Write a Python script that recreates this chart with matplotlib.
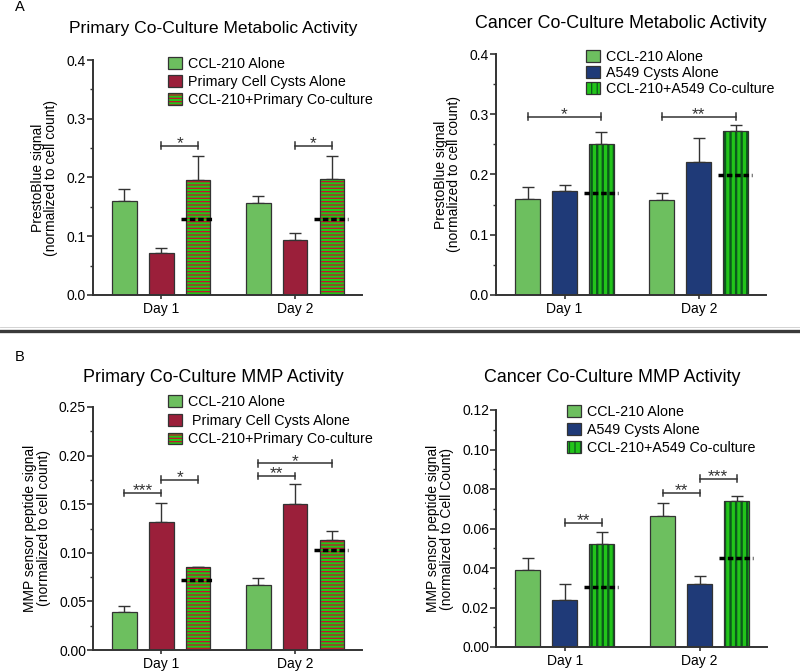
import numpy as np
import matplotlib.pyplot as plt
from matplotlib.patches import Patch
from matplotlib.ticker import MultipleLocator

plt.rcParams['font.family'] = ['Liberation Sans', 'DejaVu Sans']
plt.rcParams['hatch.linewidth'] = 0.9

days = ["Day 1", "Day 2"]

# Panel A, primary co-culture metabolic activity
a1_alone = [0.160, 0.157]
a1_alone_err = [0.020, 0.012]
a1_cysts = [0.071, 0.094]
a1_cysts_err = [0.009, 0.012]
a1_co = [0.195, 0.197]
a1_co_err = [0.042, 0.040]
a1_expected = [0.130, 0.130]

# Panel A, cancer co-culture metabolic activity
a2_alone = [0.159, 0.157]
a2_alone_err = [0.021, 0.012]
a2_cysts = [0.173, 0.220]
a2_cysts_err = [0.009, 0.040]
a2_co = [0.250, 0.273]
a2_co_err = [0.020, 0.009]
a2_expected = [0.170, 0.200]

# Panel B, primary co-culture MMP activity
b1_alone = [0.039, 0.067]
b1_alone_err = [0.006, 0.007]
b1_cysts = [0.132, 0.150]
b1_cysts_err = [0.019, 0.021]
b1_co = [0.085, 0.113]
b1_co_err = [0.0008, 0.009]
b1_expected = [0.072, 0.103]

# Panel B, cancer co-culture MMP activity
b2_alone = [0.0389, 0.0664]
b2_alone_err = [0.0060, 0.0066]
b2_cysts = [0.0237, 0.0321]
b2_cysts_err = [0.0081, 0.0037]
b2_co = [0.0524, 0.0740]
b2_co_err = [0.0059, 0.0027]
b2_expected = [0.0304, 0.0450]

# significance brackets: (day, bar from, bar to, height, label)
a1_sig = [(0, 1, 2, 0.254, "*"), (1, 1, 2, 0.254, "*")]
a2_sig = [(0, 0, 2, 0.296, "*"), (1, 0, 2, 0.296, "**")]
b1_sig = [(0, 0, 1, 0.1616, "***"), (0, 1, 2, 0.175, "*"),
          (1, 0, 1, 0.179, "**"), (1, 0, 2, 0.192, "*")]
b2_sig = [(0, 1, 2, 0.0629, "**"), (1, 0, 1, 0.078, "**"), (1, 1, 2, 0.0853, "***")]

LIGHT_GREEN = "#6dbf5f"
MAROON = "#9b1f3a"
NAVY = "#1f3a78"
BRIGHT_GREEN = "#22c41a"
STRIPE_RED = "#c8102e"
STRIPE_DKGREEN = "#0b5a1c"
EDGE = "#333333"

fig = plt.figure(figsize=(8.0, 6.71), dpi=100)

off = 0.275
bw = 0.185


def panel(rect, alone, alone_err, cysts, cysts_err, co, co_err, expected, sig,
          cyst_label, cyst_color, co_label, hatch, hatch_color, ylim, major, minor,
          fmt, ylabel, leg_xy, leg_spacing):
    ax = fig.add_axes(rect)
    x = np.arange(len(days))
    xs = [x - off, x, x + off]
    vals = [alone, cysts, co]
    errs = [alone_err, cysts_err, co_err]
    ax.bar(xs[0], alone, bw, color=LIGHT_GREEN, edgecolor=EDGE, linewidth=0.9, zorder=2)
    ax.bar(xs[1], cysts, bw, color=cyst_color, edgecolor=EDGE, linewidth=0.9, zorder=2)
    hb = ax.bar(xs[2], co, bw, color=BRIGHT_GREEN, edgecolor=hatch_color, linewidth=0,
                hatch=hatch, zorder=2)
    if hatch.startswith('|'):
        for p in hb:
            if hasattr(p, 'set_hatch_linewidth'):
                p.set_hatch_linewidth(1.7)
    ax.bar(xs[2], co, bw, fill=False, edgecolor=EDGE, linewidth=0.9, zorder=3)
    for xx, v, e in zip(xs, vals, errs):
        ax.errorbar(xx, v, yerr=[np.zeros(len(v)), e], fmt='none', ecolor=EDGE,
                    elinewidth=1.0, capsize=4.5, capthick=1.0, zorder=1)
    for i in range(len(days)):
        ax.plot([x[i] + off - 0.13, x[i] + off + 0.12], [expected[i]] * 2, color='black',
                lw=2.5, dashes=(1.6, 0.8), zorder=4)
    capspan = (ylim[1] - ylim[0]) * 0.014
    for d, b0, b1, h, lab in sig:
        x0 = x[d] + (b0 - 1) * off
        x1 = x[d] + (b1 - 1) * off
        ax.plot([x0, x1], [h, h], color=EDGE, lw=1.1, zorder=5)
        for xx in (x0, x1):
            ax.plot([xx, xx], [h - capspan, h + capspan], color=EDGE, lw=1.1, zorder=5)
        ax.annotate(lab, ((x0 + x1) / 2, h), xytext=(0, -1.8), textcoords='offset points',
                    ha='center', va='baseline', fontsize=12.5, color=EDGE)
    ax.set_xlim(-0.51, 1.5)
    ax.set_ylim(*ylim)
    ax.set_xticks(x)
    ax.set_xticklabels(days, fontsize=10)
    ax.yaxis.set_major_locator(MultipleLocator(major))
    ax.yaxis.set_minor_locator(MultipleLocator(minor))
    ax.yaxis.set_major_formatter(fmt)
    ax.tick_params(axis='y', labelsize=10, width=1.2, length=4, color=EDGE, pad=1)
    ax.tick_params(axis='y', which='minor', width=1.0, length=2.5, color=EDGE)
    ax.tick_params(axis='x', width=1.2, length=3, color=EDGE, pad=2)
    for s in ('top', 'right'):
        ax.spines[s].set_visible(False)
    for s in ('left', 'bottom'):
        ax.spines[s].set_linewidth(1.4)
        ax.spines[s].set_color(EDGE)
    ax.set_ylabel(ylabel, fontsize=10, linespacing=0.95, labelpad=6)
    handles = [
        Patch(facecolor=LIGHT_GREEN, edgecolor=EDGE, linewidth=0.9),
        Patch(facecolor=cyst_color, edgecolor=EDGE, linewidth=0.9),
        (Patch(facecolor=BRIGHT_GREEN, edgecolor=hatch_color, linewidth=0, hatch=hatch),
         Patch(fill=False, edgecolor=EDGE, linewidth=0.9)),
    ]
    ax.legend(handles, ["CCL-210 Alone", cyst_label, co_label], loc='upper left',
              bbox_to_anchor=(leg_xy[0] / 800, 1 - leg_xy[1] / 671),
              bbox_transform=fig.transFigure, frameon=False, fontsize=10.3,
              borderaxespad=0, borderpad=0, handlelength=0.95, handleheight=0.9,
              handletextpad=0.45, labelspacing=leg_spacing)
    return ax


fmt1 = lambda v, p: f"{v:.1f}"
fmt2 = lambda v, p: f"{v:.2f}"

panel([93 / 800, 1 - 295 / 671, 269 / 800, 235 / 671],
      a1_alone, a1_alone_err, a1_cysts, a1_cysts_err, a1_co, a1_co_err, a1_expected, a1_sig,
      "Primary Cell Cysts Alone", MAROON, "CCL-210+Primary Co-culture", '-----', STRIPE_RED,
      (0, 0.4), 0.1, 0.05, fmt1, "PrestoBlue signal\n(normalized to cell count)",
      (168, 57), 0.28)
panel([496 / 800, 1 - 295 / 671, 270 / 800, 241 / 671],
      a2_alone, a2_alone_err, a2_cysts, a2_cysts_err, a2_co, a2_co_err, a2_expected, a2_sig,
      "A549 Cysts Alone", NAVY, "CCL-210+A549 Co-culture", '|||', STRIPE_DKGREEN,
      (0, 0.4), 0.1, 0.05, fmt1, "PrestoBlue signal\n(normalized to cell count)",
      (586, 50), 0.13)
panel([93 / 800, 1 - 650 / 671, 269 / 800, 243 / 671],
      b1_alone, b1_alone_err, b1_cysts, b1_cysts_err, b1_co, b1_co_err, b1_expected, b1_sig,
      " Primary Cell Cysts Alone", MAROON, "CCL-210+Primary Co-culture", '-----', STRIPE_RED,
      (0, 0.25), 0.05, 0.025, fmt2, "MMP sensor peptide signal\n(normalized to cell count)",
      (168, 395), 0.33)
panel([496 / 800, 1 - 647 / 671, 271 / 800, 237 / 671],
      b2_alone, b2_alone_err, b2_cysts, b2_cysts_err, b2_co, b2_co_err, b2_expected, b2_sig,
      "A549 Cysts Alone", NAVY, "CCL-210+A549 Co-culture", '|||', STRIPE_DKGREEN,
      (0, 0.12), 0.02, 0.01, fmt2, "MMP sensor peptide signal\n(normalized to Cell Count)",
      (567, 405), 0.28)

# titles and panel letters
fig.text(213 / 800, 1 - 29 / 671, "Primary Co-Culture Metabolic Activity", ha='center',
         va='center', fontsize=12.6)
fig.text(621 / 800, 1 - 24 / 671, "Cancer Co-Culture Metabolic Activity", ha='center',
         va='center', fontsize=12.9)
fig.text(213 / 800, 1 - 378 / 671, "Primary Co-Culture MMP Activity", ha='center',
         va='center', fontsize=12.9)
fig.text(612 / 800, 1 - 378 / 671, "Cancer Co-Culture MMP Activity", ha='center',
         va='center', fontsize=12.9)
fig.text(15 / 800, 1 - 7 / 671, "A", ha='left', va='center', fontsize=10.5)
fig.text(15 / 800, 1 - 357 / 671, "B", ha='left', va='center', fontsize=10.5)

# divider between panels A and B
fig.add_artist(plt.Line2D([0, 1], [1 - 331 / 671] * 2, color='#3a3a3a', lw=2.4,
                          transform=fig.transFigure))
fig.add_artist(plt.Line2D([0, 1], [1 - 327 / 671] * 2, color='#cccccc', lw=0.6,
                          transform=fig.transFigure))

fig.savefig("out.png", dpi=100)
